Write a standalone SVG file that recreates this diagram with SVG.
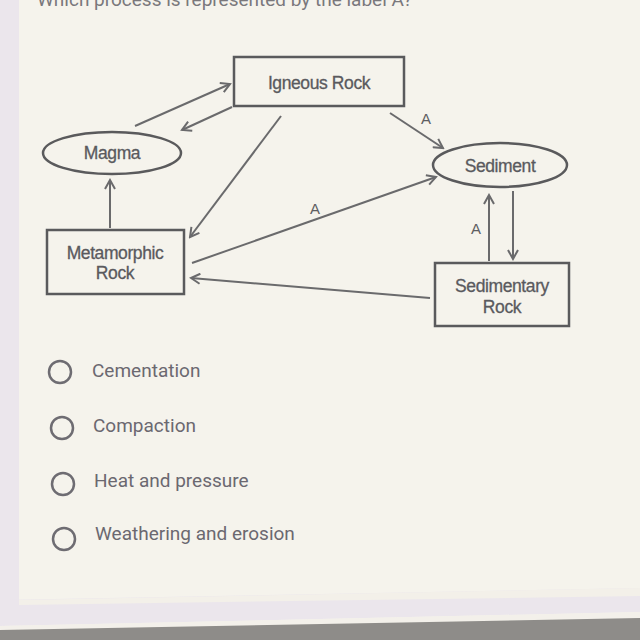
<svg xmlns="http://www.w3.org/2000/svg" width="640" height="640" viewBox="0 0 640 640">
<defs>
<marker id="ah" markerWidth="12" markerHeight="12" refX="10" refY="6" orient="auto" markerUnits="userSpaceOnUse">
<path d="M1,1 L10,6 L1,11" fill="none" stroke="#6a6a6c" stroke-width="2"/>
</marker>
</defs>
<style>
.bx{fill:none;stroke:#5a5a5c;stroke-width:2.5}
.lb{font-family:"Liberation Sans",Arial,sans-serif;font-size:17.5px;fill:#5a5a5e;stroke:#5a5a5e;stroke-width:0.3;text-anchor:middle;letter-spacing:-0.4px}
.cn{fill:none;stroke:#6a6a6c;stroke-width:2;marker-end:url(#ah)}
.al{font-family:"Liberation Sans",Arial,sans-serif;font-size:15px;fill:#5e5e62;text-anchor:middle}
.op{font-family:Roboto,"Liberation Sans",sans-serif;font-size:19px;fill:#6b6870}
.rd{fill:none;stroke:#6e6c72;stroke-width:2.5}
</style>
<rect x="0" y="0" width="640" height="640" fill="#f5f3ec"/>
<rect x="0" y="0" width="19" height="600" fill="#ebe6ec"/>
<polygon points="0,600 640,588 640,612 0,626" fill="#ebe6ec"/>
<polygon points="19,600 640,588 640,596 19,605" fill="#f3f0e9"/>
<polygon points="0,626 640,612 640,618 0,630" fill="#f3f0ea"/>
<polygon points="0,630 640,618 640,640 0,640" fill="#8e8c89"/>
<text x="37" y="6" font-family="Roboto,'Liberation Sans',sans-serif" font-size="19" fill="#7a787c">Which process is represented by the label A?</text>
<g id="connectors">
<line class="cn" x1="135" y1="126" x2="230" y2="84"/>
<line class="cn" x1="232" y1="107" x2="182" y2="130"/>
<line class="cn" x1="281" y1="116" x2="190" y2="237"/>
<line class="cn" x1="390" y1="113" x2="443" y2="148"/>
<line class="cn" x1="110" y1="228" x2="110" y2="180"/>
<line class="cn" x1="192" y1="263" x2="436" y2="177"/>
<line class="cn" x1="489" y1="261" x2="489" y2="195"/>
<line class="cn" x1="513" y1="191" x2="513" y2="259"/>
<line class="cn" x1="430" y1="298" x2="191" y2="278"/>
<text class="al" x="426" y="124">A</text>
<text class="al" x="315" y="214">A</text>
<text class="al" x="476" y="234">A</text>
</g>
<g id="igneous">
<rect class="bx" x="234" y="57" width="170" height="49"/>
<text class="lb" x="319" y="89">Igneous Rock</text>
</g>
<g id="magma">
<ellipse class="bx" cx="112" cy="153" rx="69" ry="21"/>
<text class="lb" x="112" y="159">Magma</text>
</g>
<g id="sediment">
<ellipse class="bx" cx="500" cy="165" rx="67" ry="22"/>
<text class="lb" x="500" y="172">Sediment</text>
</g>
<g id="metamorphic">
<rect class="bx" x="47" y="230" width="137" height="64"/>
<text class="lb" x="115" y="259">Metamorphic</text>
<text class="lb" x="115" y="279">Rock</text>
</g>
<g id="sedimentary">
<rect class="bx" x="435" y="263" width="134" height="63"/>
<text class="lb" x="502" y="292">Sedimentary</text>
<text class="lb" x="502" y="313">Rock</text>
</g>
<g id="options">
<circle class="rd" cx="60" cy="372" r="11"/>
<text class="op" x="92" y="377">Cementation</text>
<circle class="rd" cx="62" cy="428" r="11"/>
<text class="op" x="93" y="432">Compaction</text>
<circle class="rd" cx="63" cy="484" r="11"/>
<text class="op" x="94" y="487">Heat and pressure</text>
<circle class="rd" cx="64" cy="539" r="11"/>
<text class="op" x="95" y="540">Weathering and erosion</text>
</g>
</svg>
